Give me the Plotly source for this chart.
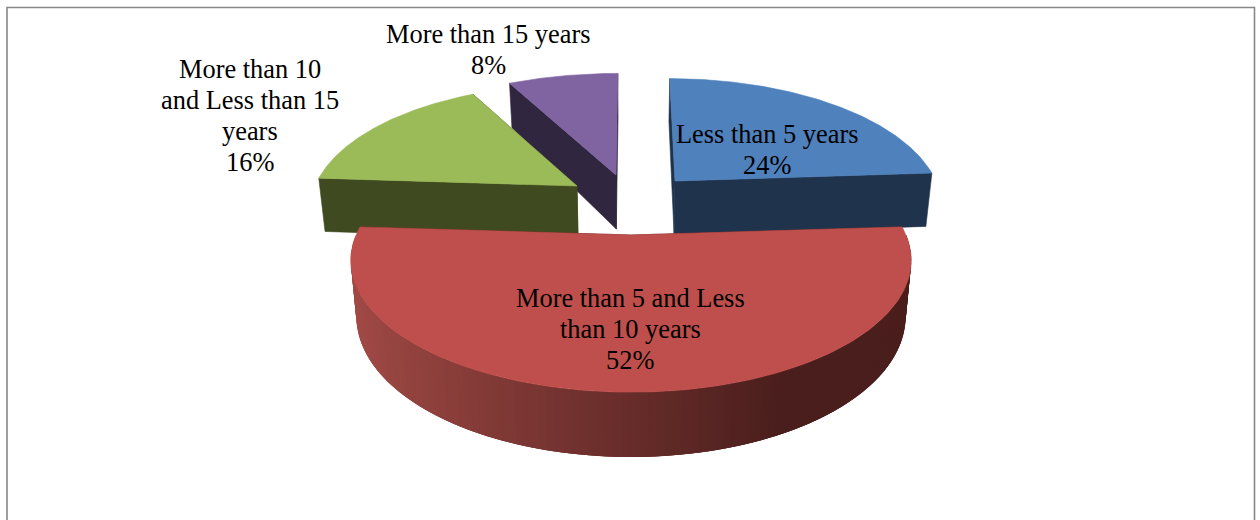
import numpy as np
import plotly.graph_objects as go

# ---- data ----
categories = ["Less than 5 years", "More than 5 and Less than 10 years",
              "More than 10 and Less than 15 years", "More than 15 years"]
values = [24, 52, 16, 8]
label_lines = [["Less than 5 years"],
               ["More than 5 and Less", "than 10 years"],
               ["More than 10", "and Less than 15", "years"],
               ["More than 15 years"]]

# ---- styling / layout ----
top_colors = ["#4F81BD", "#BE4F4C", "#9BBB59", "#8064A2"]
side_colors = ["#1F334D", "#4C1F1D", "#404A20", "#312640"]
wall_light, wall_dark = (164, 75, 71), (74, 30, 28)
# apex x, apex y, x radius, y radius, lean for each exploded slice
cx = [675, 631, 577, 616]
cy = [181, 235, 186, 175]
rx = [261, 275, 262, 272]
ry = [128, 131, 127, 127]
lean = [0.6, 0.6, 0.0, 0.6]
label_pos = [(767, 134), (630, 298), (250, 69), (488, 34)]
draw_order = [3, 2, 0, 1]
VP, K, DEPTH, SHRINK = 631, 0.2, 54, 0.98
FONT = "Liberation Serif"
FONT_SIZE = 26.4
LINE_STEP = 31


def project(i, t):
    s = 1 - K * np.cos(t)
    x = cx[i] + rx[i] * np.sin(t) * s + lean[i] * (cx[i] - VP) * (s - 1)
    y = cy[i] - ry[i] * np.cos(t) * s
    return x, y, s


def drop(x, y, s):
    return VP + (x - VP) * SHRINK, y + DEPTH * s


def poly(xs, ys, color, width=0.6):
    return go.Scatter(x=list(xs), y=list(ys), mode="lines", fill="toself",
                      fillcolor=color, line=dict(color=color, width=width),
                      hoverinfo="skip", showlegend=False)


fig = go.Figure()
edges = np.cumsum([0] + values) / sum(values) * 2 * np.pi

for i in draw_order:
    a, b = edges[i], edges[i + 1]
    # radial faces, back one first
    faces = sorted([a, b], key=lambda t: -np.cos(t))
    for t in faces:
        x, y, s = project(i, t)
        x2, y2 = drop(x, y, s)
        ax, ay = cx[i], cy[i]
        ax2, ay2 = drop(ax, ay, 1)
        fig.add_trace(poly([ax, x, x2, ax2, ax], [ay, y, y2, ay2, ay], side_colors[i]))
    # outer wall where the rim faces the viewer; each strip overlaps the next
    lo, hi = max(a, np.pi / 2), min(b, 3 * np.pi / 2)
    if hi > lo:
        ts = np.linspace(lo, hi, 121)
        for j in range(len(ts) - 1, 0, -1):
            t1 = ts[j]
            t0 = ts[max(j - 3, 0)]
            tt = np.linspace(t0, t1, 4)
            x, y, s = project(i, tt)
            xb, yb = drop(x, y, s)
            pos = np.sin(t1)        # +1 right, -1 left
            f = float(np.clip((pos + 1) / 1.45, 0, 1))
            c = [round(l + (d - l) * f) for l, d in zip(wall_light, wall_dark)]
            col = "rgb(%d,%d,%d)" % tuple(c)
            fig.add_trace(poly(np.r_[x, xb[::-1], x[0]], np.r_[y, yb[::-1], y[0]], col, 0))
    # top face
    ts = np.linspace(a, b, 160)
    xs, ys, _ = project(i, ts)
    fig.add_trace(poly(np.r_[cx[i], xs, cx[i]], np.r_[cy[i], ys, cy[i]], top_colors[i]))

for lines, v, (lx, ly) in zip(label_lines, values, label_pos):
    for n, line in enumerate(lines + [f"{v}%"]):
        fig.add_annotation(x=lx, y=ly + n * LINE_STEP, xref="x", yref="y", text=line,
                           showarrow=False, align="center", xanchor="center", yanchor="middle",
                           font=dict(family=FONT, size=FONT_SIZE, color="black"))

fig.add_shape(type="rect", xref="x", yref="y", x0=7, y0=7.5, x1=1254.5, y1=560,
              line=dict(color="#888888", width=1.6), fillcolor="rgba(0,0,0,0)", layer="below")

fig.update_layout(width=1260, height=520, margin=dict(l=0, r=0, t=0, b=0),
                  paper_bgcolor="white", plot_bgcolor="white", showlegend=False,
                  xaxis=dict(range=[0, 1260], visible=False, fixedrange=True),
                  yaxis=dict(range=[520, 0], visible=False, fixedrange=True))

fig.write_html("out.html", config=dict(displayModeBar=False),
               post_script="document.body.style.margin='0';document.body.style.overflow='hidden';")
